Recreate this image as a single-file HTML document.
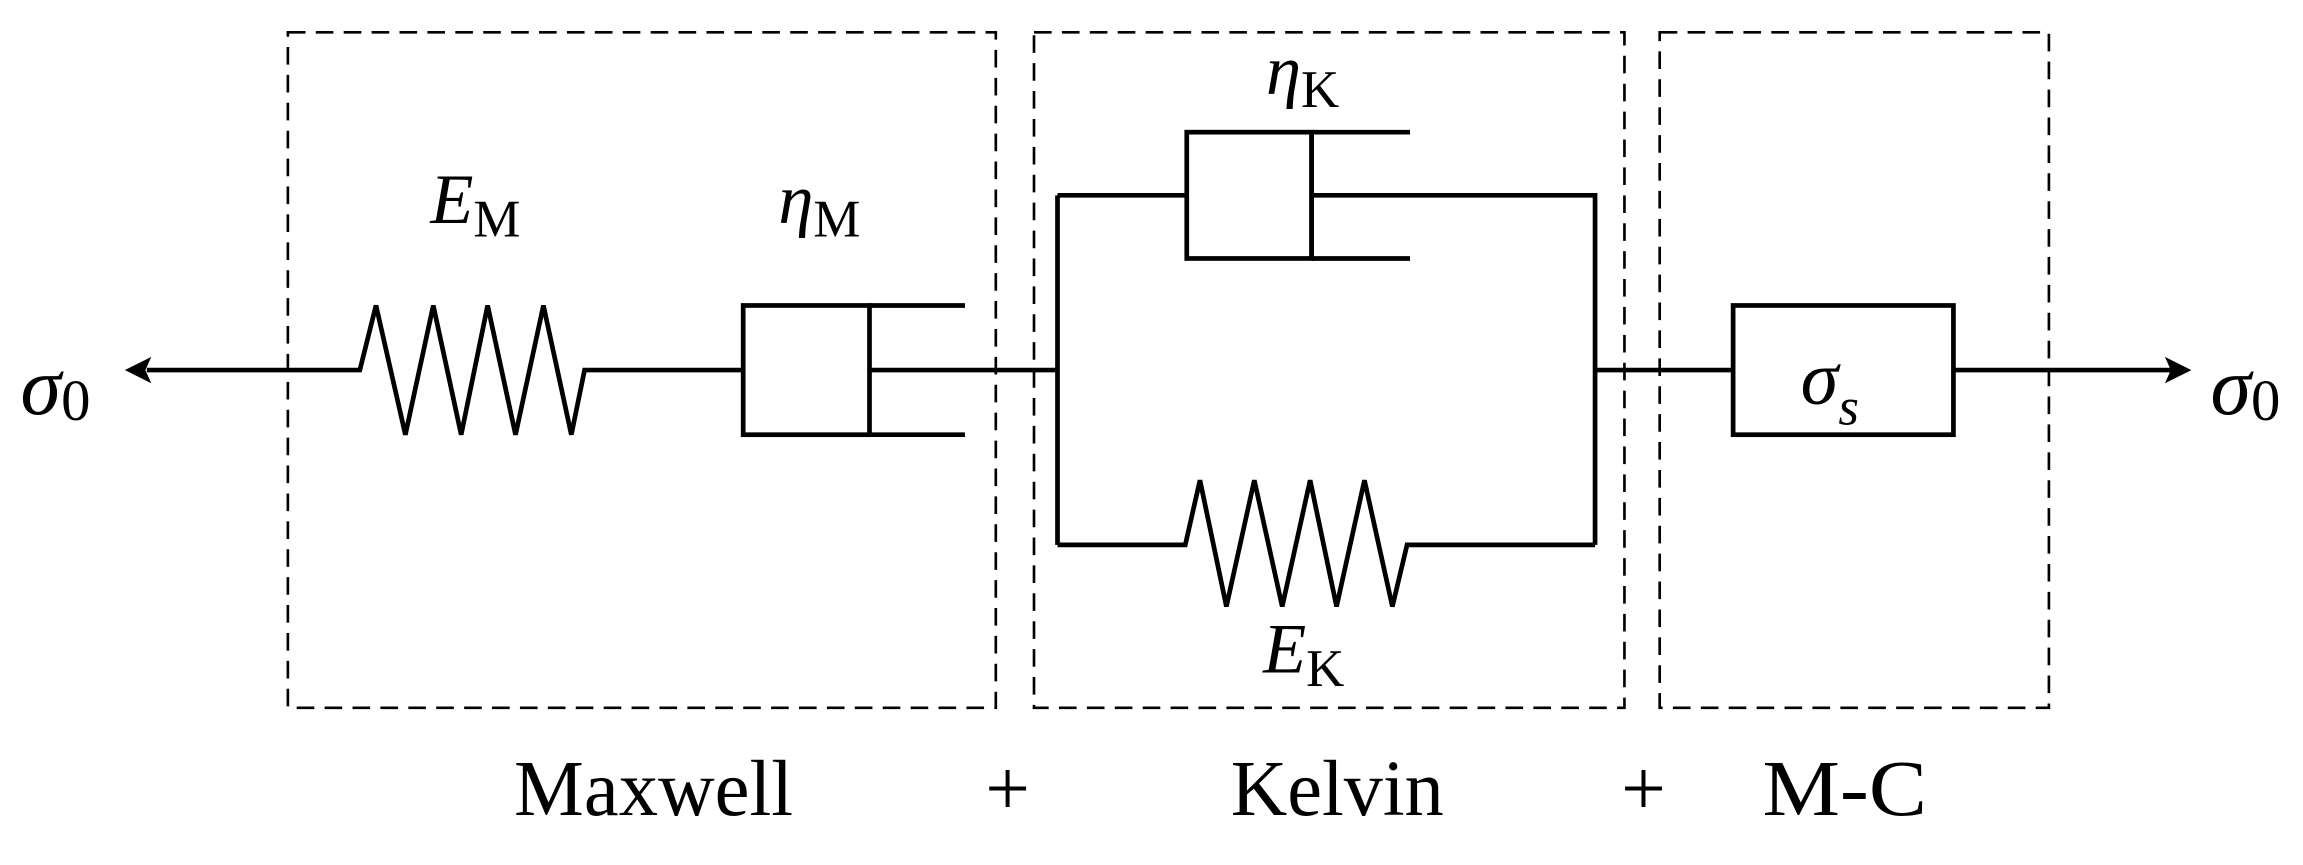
<!DOCTYPE html>
<html><head><meta charset="utf-8"><style>
html,body{margin:0;padding:0;background:#fff;}
svg{display:block;}
text{font-family:"Liberation Serif",serif;fill:#000;}
</style></head><body>
<svg width="2303" height="865" viewBox="0 0 1568 589" preserveAspectRatio="none" xmlns="http://www.w3.org/2000/svg">
<g fill="none" stroke="#000" stroke-width="1.8" stroke-dasharray="12,7">
<rect x="196" y="22" width="482" height="460"/>
<rect x="704" y="22" width="402" height="460"/>
<rect x="1130" y="22" width="265" height="460"/>
</g>
<g fill="none" stroke="#000" stroke-width="3.2" stroke-linejoin="miter">
<path d="M100,252 L245,252 L256,208 L276,296 L295,208 L314,296 L332,208 L351,296 L370,208 L389,296 L398,252 L506,252"/>
<rect x="506" y="208" width="86" height="88"/>
<path d="M592,208 L657,208 M592,296 L657,296 M592,252 L720,252"/>
<path d="M720,133 L720,371"/>
<path d="M720,133 L808,133"/>
<rect x="808" y="90" width="85" height="86"/>
<path d="M893,90 L960,90 M893,176 L960,176 M893,90 L893,176 M893,133 L1086,133 L1086,371"/>
<path d="M720,371 L807,371 L817,327 L835,413 L854,327 L873,413 L892,327 L910,413 L929,327 L948,413 L958,371 L1086,371"/>
<path d="M1086,252 L1180,252"/>
<rect x="1180" y="208" width="150" height="88"/>
<path d="M1330,252 L1478,252"/>
</g>
<path d="M85,252 L103,243 L99,252 L103,261 Z" fill="#000"/>
<path d="M1492,252 L1474,243 L1478,252 L1474,261 Z" fill="#000"/>
<text x="14" y="282" font-size="56" font-style="italic">σ<tspan font-style="normal" font-size="40" dy="4">0</tspan></text>
<text x="1505" y="282" font-size="56" font-style="italic">σ<tspan font-style="normal" font-size="40" dy="4">0</tspan></text>
<text x="1226" y="275" font-size="52" font-style="italic">σ<tspan font-size="36" dy="14">s</tspan></text>
<text x="293" y="152" font-size="48" font-style="italic">E<tspan font-style="normal" font-size="36" dy="9">M</tspan></text>
<text x="530" y="152" font-size="48" font-style="italic">η<tspan font-style="normal" font-size="36" dy="9">M</tspan></text>
<text x="862" y="64" font-size="48" font-style="italic">η<tspan font-style="normal" font-size="36" dy="9">K</tspan></text>
<text x="860" y="458" font-size="48" font-style="italic">E<tspan font-style="normal" font-size="36" dy="9">K</tspan></text>
<text x="350" y="555" font-size="54" textLength="190" lengthAdjust="spacingAndGlyphs">Maxwell</text>
<text x="686" y="555" font-size="54" text-anchor="middle">+</text>
<text x="838" y="555" font-size="54" textLength="145" lengthAdjust="spacingAndGlyphs">Kelvin</text>
<text x="1119" y="555" font-size="54" text-anchor="middle">+</text>
<text x="1200" y="555" font-size="54" textLength="112" lengthAdjust="spacingAndGlyphs">M-C</text>
</svg>
</body></html>
